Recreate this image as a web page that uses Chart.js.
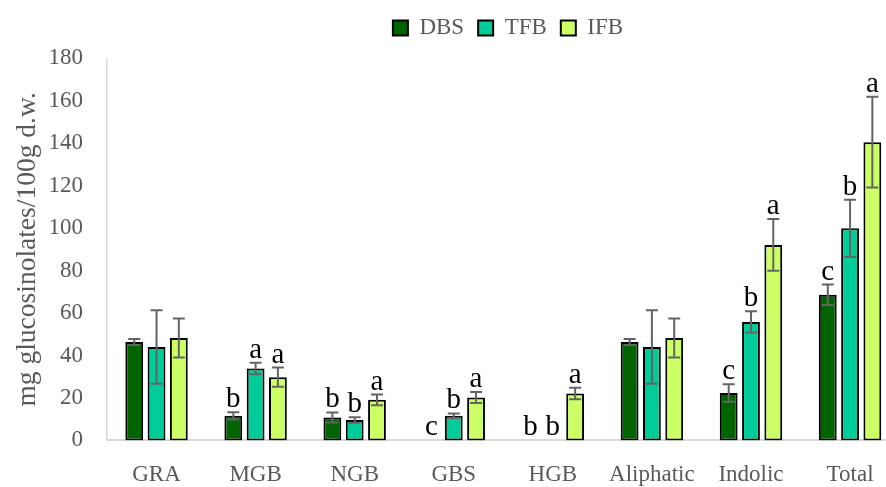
<!DOCTYPE html>
<html>
<head>
<meta charset="utf-8">
<script src="https://cdn.jsdelivr.net/npm/chart.js@4/dist/chart.umd.min.js"></script>
<style>
  html, body { margin: 0; padding: 0; background: #ffffff; overflow: hidden; width: 886px; height: 487px; }
  #wrap { position: absolute; left: 0; top: 0; width: 1016px; height: 487px; }
  canvas { display: block; }
</style>
</head>
<body>
<div id="wrap"><canvas id="chart" width="1016" height="487"></canvas></div>
<script>
// Glucosinolate content by compound class and drying method
const categories = ['GRA', 'MGB', 'NGB', 'GBS', 'HGB', 'Aliphatic', 'Indolic', 'Total'];
const seriesNames = ['DBS', 'TFB', 'IFB'];

const dbsValues = [46.4, 11.6, 10.8, 0, 0, 46.4, 22.3, 68.6];
const tfbValues = [44.0, 33.9, 9.6, 11.6, 0, 44.0, 55.8, 99.9];
const ifbValues = [48.2, 29.8, 19.1, 20.2, 22.1, 48.2, 92.1, 140.5];

const dbsErrors = [1.4, 1.7, 2.4, 0, 0, 1.4, 4.1, 4.8];
const tfbErrors = [17.3, 2.7, 1.3, 1.1, 0, 17.3, 5.0, 13.5];
const ifbErrors = [9.2, 4.5, 2.5, 2.6, 2.7, 9.2, 12.2, 21.4];

// significance letters per bar
const dbsLetters = ['', 'b', 'b', 'c', 'b', '', 'c', 'c'];
const tfbLetters = ['', 'a', 'b', 'b', 'b', '', 'b', 'b'];
const ifbLetters = ['', 'a', 'a', 'a', 'a', '', 'a', 'a'];

const yMin = 0, yMax = 180, yStep = 20;
const yTitle = 'mg glucosinolates/100g d.w.';

const FONT = "'Liberation Serif', 'Times New Roman', serif";
const TEXT_GREY = '#595959';
const AXIS_GREY = '#d9d9d9';

// whiskers and letters on top of the bars
const errorBarsAndLetters = {
  id: 'errorBarsAndLetters',
  afterDatasetsDraw(chart) {
    const ctx = chart.ctx;
    const y = chart.scales.y;
    chart.data.datasets.forEach((ds, di) => {
      const meta = chart.getDatasetMeta(di);
      meta.data.forEach((bar, i) => {
        const v = ds.data[i];
        const e = ds.errors[i];
        let top = y.getPixelForValue(v);
        if (e > 0) {
          const hi = y.getPixelForValue(v + e);
          const lo = y.getPixelForValue(v - e);
          ctx.save();
          ctx.strokeStyle = '#646464';
          ctx.lineWidth = 2;
          ctx.beginPath();
          ctx.moveTo(bar.x, hi); ctx.lineTo(bar.x, lo);
          ctx.moveTo(bar.x - 6, hi); ctx.lineTo(bar.x + 6, hi);
          ctx.moveTo(bar.x - 6, lo); ctx.lineTo(bar.x + 6, lo);
          ctx.stroke();
          ctx.restore();
          top = hi;
        }
        const letter = ds.letters[i];
        if (letter) {
          ctx.save();
          ctx.fillStyle = '#000000';
          ctx.font = '29px ' + FONT;
          ctx.textAlign = 'center';
          ctx.textBaseline = 'alphabetic';
          ctx.fillText(letter, bar.x, top - 5);
          ctx.restore();
        }
      });
    });
  }
};

const makeSet = (label, data, errors, letters, color) => ({
  label, data, errors, letters,
  backgroundColor: color,
  borderColor: '#000000',
  borderWidth: 2,
  borderSkipped: false,
  categoryPercentage: 0.675,
  barPercentage: 0.8
});

new Chart(document.getElementById('chart'), {
  type: 'bar',
  data: {
    labels: categories,
    datasets: [
      makeSet(seriesNames[0], dbsValues, dbsErrors, dbsLetters, '#006400'),
      makeSet(seriesNames[1], tfbValues, tfbErrors, tfbLetters, '#00cc99'),
      makeSet(seriesNames[2], ifbValues, ifbErrors, ifbLetters, '#ccff66')
    ]
  },
  options: {
    responsive: false,
    devicePixelRatio: 1,
    animation: false,
    layout: { padding: { top: 2.5, left: 0, right: 0, bottom: 0 } },
    plugins: {
      legend: {
        position: 'top',
        labels: {
          boxWidth: 15,
          boxHeight: 15,
          padding: 14,
          color: TEXT_GREY,
          font: { family: FONT, size: 23 }
        }
      },
      tooltip: { enabled: false }
    },
    scales: {
      x: {
        grid: { display: false, drawTicks: false },
        border: { display: true, color: AXIS_GREY, width: 2 },
        ticks: { color: TEXT_GREY, font: { family: FONT, size: 23 }, padding: 21, maxRotation: 0, autoSkip: false },
        afterFit: (s) => { s.height = 46.6; }
      },
      y: {
        min: yMin,
        max: yMax,
        grid: { display: false, drawTicks: false },
        border: { display: true, color: AXIS_GREY, width: 1.5 },
        ticks: { stepSize: yStep, color: TEXT_GREY, font: { family: FONT, size: 23 }, padding: 24 },
        title: {
          display: true,
          text: yTitle,
          color: TEXT_GREY,
          font: { family: FONT, size: 27.5 },
          padding: { top: 11, bottom: 0 }
        },
        afterFit: (s) => { s.width = 107; }
      },
      // empty scales reserving room above and right of the plot
      xPad: {
        type: 'category',
        position: 'top',
        display: true,
        grid: { display: false, drawTicks: false },
        border: { display: false },
        ticks: { display: false },
        afterFit: (s) => { s.height = 8.8; }
      },
      yPad: {
        type: 'linear',
        position: 'right',
        display: true,
        grid: { display: false, drawTicks: false },
        border: { display: false },
        ticks: { display: false },
        afterFit: (s) => { s.width = 116.4; }
      }
    }
  },
  plugins: [errorBarsAndLetters]
});
</script>
</body>
</html>
